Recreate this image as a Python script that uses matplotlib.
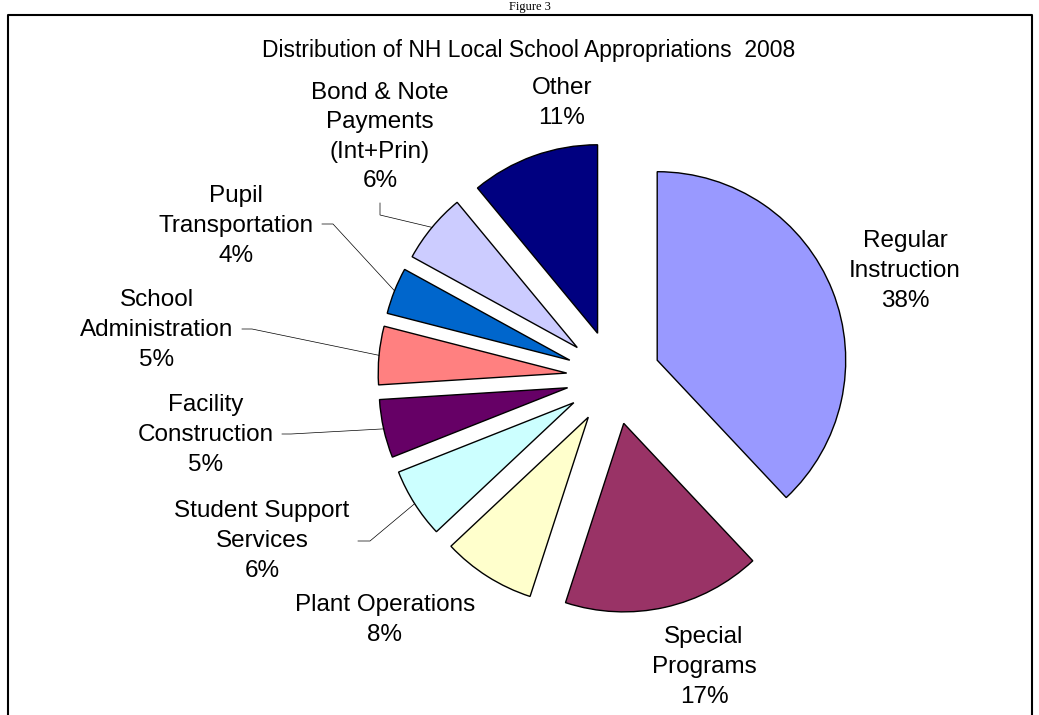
"""Distribution of NH Local School Appropriations 2008 - exploded pie."""

import numpy as np
import matplotlib.pyplot as plt

# Data (clockwise from 12 o'clock)
categories = [
    "Regular\nInstruction",
    "Special\nPrograms",
    "Plant Operations",
    "Student Support\nServices",
    "Facility\nConstruction",
    "School\nAdministration",
    "Pupil\nTransportation",
    "Bond & Note\nPayments\n(Int+Prin)",
    "Other",
]
shares = [38, 17, 8, 6, 5, 5, 4, 6, 11]
colors = ["#9999FF", "#993366", "#FFFFCC", "#CCFFFF", "#660066",
          "#FF8080", "#0066CC", "#CCCCFF", "#000080"]
title = "Distribution of NH Local School Appropriations  2008"

# Layout, in pixels measured from the top-left corner
W, H = 1039, 715
CENTER = (613.5, 377.5)
RADIUS = 188.5
EXPLODE = 47
LABEL_XY = [(905, 271), (704, 667), (385, 620), (262, 541), (206, 435),
            (157, 330), (236, 226), (380, 137), (562, 103)]
# leader: (start, elbow) for the labels that have one
LEADERS = {
    3: ((358, 541), (370, 541)),
    4: ((282, 434), (291, 434)),
    5: ((242, 329), (252, 329)),
    6: ((322, 224), (333, 224)),
    7: ((380, 203), (380, 215)),
}
LABEL_FONT = dict(family="Liberation Sans", size=17.5)


def px(x, y):
    return x, H - y


fig = plt.figure(figsize=(W / 100, H / 100), dpi=100)
ax = fig.add_axes([0, 0, 1, 1])

wedges, _ = ax.pie(
    shares,
    colors=colors,
    explode=[EXPLODE] * len(shares),
    center=px(*CENTER),
    radius=RADIUS,
    startangle=90,
    counterclock=False,
    wedgeprops=dict(edgecolor="black", linewidth=1.0),
)
ax.set_xlim(0, W)
ax.set_ylim(0, H)
ax.set_aspect("equal")
ax.axis("off")

for cat, share, (lx, ly) in zip(categories, shares, LABEL_XY):
    ax.text(*px(lx, ly), f"{cat}\n{share}%", ha="center", va="center",
            multialignment="center", linespacing=1.45, **LABEL_FONT)

for i, (start, elbow) in LEADERS.items():
    w = wedges[i]
    th = np.deg2rad((w.theta1 + w.theta2) / 2)
    end = (w.center[0] + w.r * np.cos(th), w.center[1] + w.r * np.sin(th))
    xs = [start[0], elbow[0], end[0]]
    ys = [H - start[1], H - elbow[1], end[1]]
    ax.plot(xs, ys, color="black", linewidth=0.5)

ax.text(*px(529, 50), title, ha="center", va="center",
        family="Liberation Sans", size=16.5)

# page frame and the caption above it
ax.plot([8, 8, 1032, 1032], [0, H - 15, H - 15, 0], color="black",
        linewidth=1.5, clip_on=False)
ax.text(*px(530, 1), "Figure 3", ha="center", va="top",
        family="Liberation Serif", size=9)

fig.savefig("out.png", dpi=100)
